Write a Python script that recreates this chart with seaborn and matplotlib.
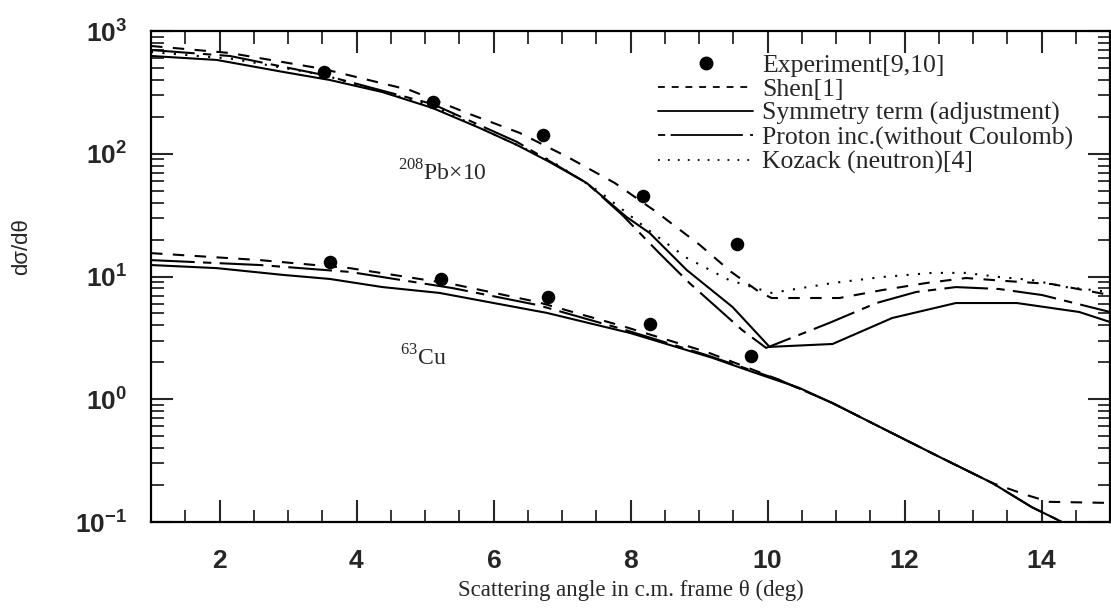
import numpy as np
import matplotlib
matplotlib.use("Agg")
import matplotlib.pyplot as plt
import seaborn as sns
from matplotlib.lines import Line2D
from matplotlib.ticker import MultipleLocator, LogLocator, NullFormatter, FuncFormatter

# 208Pb (x10) curves
pb_sym_x = [1.0, 1.96, 2.93, 3.61, 4.38, 5.11, 5.80, 6.34, 6.82, 7.36, 7.94, 8.28, 8.82, 9.49, 10.03, 10.95, 11.82, 12.75, 13.64, 14.55, 15.0]
pb_sym_y = [626, 581, 464, 399, 318, 236, 162, 118, 85.6, 57.8, 30.6, 22.6, 11.3, 5.64, 2.67, 2.82, 4.59, 6.08, 6.08, 5.14, 4.26]

pb_shen_x = [1.0, 2.15, 3.52, 4.78, 5.61, 6.38, 7.08, 7.77, 8.38, 9.01, 9.47, 9.88, 10.06, 11.05, 11.68, 12.32, 12.90, 13.48, 14.15, 15.0]
pb_shen_y = [755, 662, 490, 330, 215, 148, 94.2, 57.8, 33.5, 18.1, 10.9, 7.48, 6.68, 6.68, 7.76, 8.85, 9.72, 9.19, 8.68, 7.06]

pb_prot_x = [1.0, 2.15, 3.52, 5.11, 6.34, 7.36, 7.88, 8.42, 8.86, 9.63, 9.98, 10.90, 11.59, 12.17, 12.75, 13.38, 14.01, 14.59, 15.0]
pb_prot_y = [700, 626, 438, 254, 125, 57.8, 31.7, 15.5, 8.85, 3.66, 2.62, 4.18, 6.08, 7.48, 8.2, 7.91, 7.06, 5.86, 5.14]

pb_koz_x = [1.0, 2.20, 3.52, 5.11, 6.82, 7.55, 8.32, 8.82, 9.44, 10.06, 10.95, 11.68, 12.40, 12.90, 13.38, 13.86, 14.36, 15.0]
pb_koz_y = [674, 592, 438, 245, 88.9, 49, 22.6, 14.2, 9.35, 7.35, 8.85, 9.91, 10.7, 10.7, 9.91, 9.36, 8.2, 7.48]

# 63Cu curves
cu_shen_x = [1.0, 2.59, 3.90, 5.40, 6.64, 7.88, 9.11, 10.17, 10.95, 11.73, 12.51, 13.28, 13.78, 14.11, 15.0]
cu_shen_y = [15.5, 13.6, 11.7, 8.68, 6.2, 3.95, 2.43, 1.44, 0.93, 0.561, 0.339, 0.208, 0.166, 0.146, 0.143]

cu_sym_x = [1.0, 1.96, 2.93, 3.61, 4.38, 5.21, 6.78, 7.99, 9.20, 9.78, 10.46, 10.95, 11.73, 12.51, 13.28, 13.86, 14.30, 14.55]
cu_sym_y = [12.4, 11.7, 10.3, 9.55, 8.2, 7.35, 5.05, 3.47, 2.17, 1.67, 1.24, 0.93, 0.561, 0.339, 0.208, 0.132, 0.100, 0.09]

cu_prot_x = [1.0, 2.59, 3.90, 5.40, 6.64, 7.88, 9.11, 10.17, 10.95, 11.73, 12.51, 13.28, 13.86, 14.30]
cu_prot_y = [13.6, 12.4, 10.9, 8.05, 5.86, 3.73, 2.29, 1.44, 0.93, 0.561, 0.339, 0.208, 0.132, 0.100]

# experiment
exp_x = [3.52, 5.11, 6.72, 8.18, 9.55, 3.61, 5.24, 6.80, 8.29, 9.76]
exp_y = [464, 264, 142, 45.3, 18.4, 13.1, 9.55, 6.81, 4.10, 2.25]

labels = ["Experiment[9,10]", "Shen[1]", "Symmetry term (adjustment)",
          "Proton inc.(without Coulomb)", "Kozack (neutron)[4]"]

sns.set_style("ticks")
plt.rcParams["font.family"] = ["Liberation Serif", "DejaVu Serif"]
plt.rcParams["mathtext.fontset"] = "custom"
plt.rcParams["mathtext.rm"] = "Liberation Serif"
plt.rcParams["mathtext.sf"] = "Liberation Sans:bold"

shen_ls = (0, (5.5, 5))
prot_ls = (0, (21, 4, 4, 4))
koz_ls = (0, (1, 4.5))
lw = 1.5

fig = plt.figure(figsize=(11.11, 6.08), dpi=100)
ax = fig.add_axes([151 / 1111, 1 - 522 / 608, 959 / 1111, 491 / 608])
ax.set_yscale("log")

for xs, ys in [(pb_shen_x, pb_shen_y), (cu_shen_x, cu_shen_y)]:
    sns.lineplot(x=xs, y=ys, ax=ax, color="black", linewidth=lw, linestyle=shen_ls,
                 estimator=None, sort=False)
for xs, ys in [(pb_sym_x, pb_sym_y), (cu_sym_x, cu_sym_y)]:
    sns.lineplot(x=xs, y=ys, ax=ax, color="black", linewidth=lw, estimator=None, sort=False)
for xs, ys in [(pb_prot_x, pb_prot_y), (cu_prot_x, cu_prot_y)]:
    sns.lineplot(x=xs, y=ys, ax=ax, color="black", linewidth=lw, linestyle=prot_ls,
                 estimator=None, sort=False)
sns.lineplot(x=pb_koz_x, y=pb_koz_y, ax=ax, color="black", linewidth=lw, linestyle=koz_ls,
             estimator=None, sort=False)
sns.scatterplot(x=exp_x, y=exp_y, ax=ax, color="black", s=95, linewidth=0, zorder=5)

ax.set_xlim(1, 15)
ax.set_ylim(0.1, 1000)
ax.xaxis.set_major_locator(MultipleLocator(2))
ax.xaxis.set_minor_locator(MultipleLocator(0.5))
ax.yaxis.set_major_locator(LogLocator(base=10))
ax.yaxis.set_minor_locator(LogLocator(base=10, subs=np.arange(2, 10)))
ax.yaxis.set_minor_formatter(NullFormatter())
ax.yaxis.set_major_formatter(FuncFormatter(lambda v, p: r"$\mathsf{10^{%d}}$" % int(round(np.log10(v)))))
ax.xaxis.set_major_formatter(FuncFormatter(lambda v, p: r"$\mathsf{%d}$" % int(round(v))))

ax.tick_params(which="major", direction="in", length=15.5, width=1.5, top=True, right=True)
ax.tick_params(which="minor", direction="in", length=9, width=1.3, top=True, right=True)
ax.tick_params(axis="y", which="major", pad=17, labelsize=19)
ax.tick_params(axis="x", which="major", pad=21, labelsize=19)
for sp in ax.spines.values():
    sp.set_linewidth(1.6)
    sp.set_color("black")

ax.set_xlabel("Scattering angle in c.m. frame θ (deg)", fontsize=16.5)
ax.xaxis.set_label_coords(0.5, -0.118)
ax.set_ylabel("dσ/dθ", fontsize=16, fontfamily="Liberation Sans")
ax.yaxis.set_label_coords(-0.124, 0.56)

ax.text(4.60, 61, r"$^{\mathrm{208}}$Pb×10", fontsize=17, va="baseline")
ax.text(4.63, 1.87, r"$^{\mathrm{63}}$Cu", fontsize=17, va="baseline")

handles = [
    Line2D([], [], marker="o", linestyle="none", color="black", markersize=9),
    Line2D([], [], color="black", linewidth=1.3, linestyle=(0, (3.8, 3.8))),
    Line2D([], [], color="black", linewidth=1.3),
    Line2D([], [], color="black", linewidth=1.3, linestyle=(0, (4, 3, 40, 4))),
    Line2D([], [], color="black", linewidth=1.3, linestyle=koz_ls),
]
ax.legend(handles, labels, loc="upper left", bbox_to_anchor=(658 / 1111, 1 - 54 / 608),
          bbox_transform=fig.transFigure, frameon=False, fontsize=18.5,
          handlelength=3.7, handletextpad=0.35, labelspacing=0.04,
          borderpad=0, borderaxespad=0)

fig.savefig("out.png", dpi=100)
